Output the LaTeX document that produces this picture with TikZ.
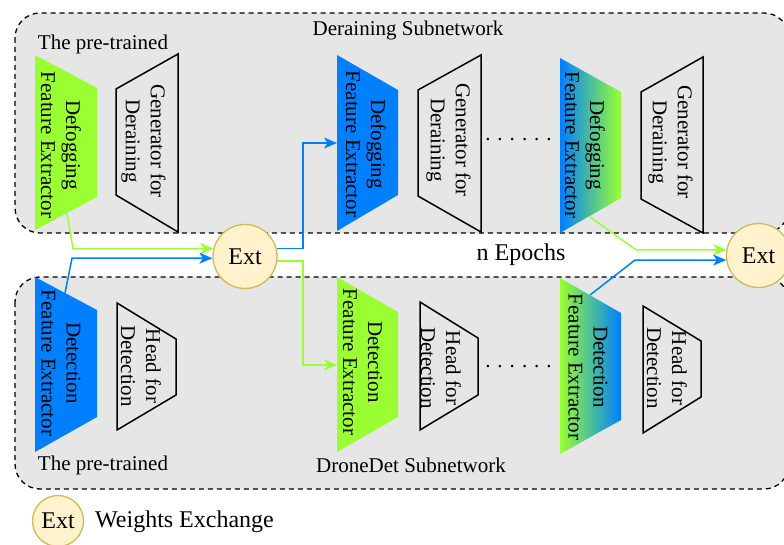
\documentclass[tikz,border=0pt]{standalone}
\usepackage{fontspec}
\setmainfont{Liberation Serif}
\usetikzlibrary{arrows.meta,calc}
\definecolor{panel}{HTML}{E6E6E6}
\definecolor{fogG}{HTML}{99FF33}
\definecolor{detB}{HTML}{007FFF}
\definecolor{extfill}{HTML}{FFF2CC}
\definecolor{extline}{HTML}{D6B656}

\begin{document}
\begin{tikzpicture}[x=1pt,y=-1pt,
  panelbox/.style={fill=panel, draw=black, dash pattern=on 5pt off 4pt, line width=1.3pt, rounded corners=25pt},
  block/.style={draw=black, line width=1.5pt, line join=miter},
  lbl/.style={font=\fontsize{21}{25}\selectfont, align=center, inner sep=0pt},
  biglbl/.style={lbl, font=\fontsize{24}{28}\selectfont},
  vlbl/.style={lbl, rotate=-90},
  extnode/.style={circle, draw=extline, fill=extfill, line width=1.3pt, minimum size=64pt, inner sep=0pt, font=\fontsize{24}{28}\selectfont},
  link/.style={line width=1.5pt, -{Stealth[length=13pt,width=11pt,inset=3.5pt]}},
]
\clip (0,0) rectangle (784,545);

% the two subnetwork panels
\draw[panelbox] (15,13) rectangle (789,233);
\draw[panelbox] (15,277) rectangle (789,489);

% deraining subnetwork blocks
\fill[fogG] (35,55) -- (97,88) -- (97,197) -- (35,230) -- cycle;
\draw[block] (116,89) -- (178,54) -- (178,232) -- (116,195) -- cycle;
\fill[detB] (337,55) -- (398,90) -- (398,195) -- (337,231) -- cycle;
\draw[block] (418,90) -- (481,55) -- (481,232) -- (418,196) -- cycle;
\shade[left color=detB, right color=fogG] (560,58) -- (621,92) -- (621,198) -- (560,233) -- cycle;
\draw[block] (641,92) -- (703,57) -- (703,233) -- (641,199) -- cycle;

% dronedet subnetwork blocks
\fill[detB] (35,277) -- (97,310) -- (97,417) -- (35,452) -- cycle;
\draw[block] (117,303) -- (176,339) -- (176,395) -- (117,430) -- cycle;
\fill[fogG] (337,277) -- (398,312) -- (398,417) -- (337,452) -- cycle;
\draw[block] (420,302) -- (478,338) -- (478,395) -- (420,430) -- cycle;
\shade[left color=fogG, right color=detB] (560,278) -- (621,313) -- (621,420) -- (560,454) -- cycle;
\draw[block] (643,306) -- (701,341) -- (701,397) -- (643,433) -- cycle;

% block captions
\node[vlbl] (tdf1) at (61,145) {Defogging\\Feature Extractor};
\node[vlbl] (tgn1) at (143.5,141) {Generator for\\Deraining};
\node[vlbl] (tdf2) at (366,144) {Defogging\\Feature Extractor};
\node[vlbl] (tgn2) at (448.5,140) {Generator for\\Deraining};
\node[vlbl] (tdf3) at (585,145) {Defogging\\Feature Extractor};
\node[vlbl] (tgn3) at (670.5,142) {Generator for\\Deraining};

\node[vlbl] (tdt1) at (61,363) {Detection\\Feature Extractor};
\node[vlbl] (thd1) at (141,366) {Head for\\Detection};
\node[vlbl] (tdt2) at (362.5,362) {Detection\\Feature Extractor};
\node[vlbl] (thd2) at (441,368) {Head for\\Detection};
\node[vlbl] (tdt3) at (588,367) {Detection\\Feature Extractor};
\node[vlbl] (thd3) at (667,368) {Head for\\Detection};

\node[lbl, anchor=base] (dots1) at (518.5,140.5) {. . . . . .};
\node[lbl, anchor=base] (dots2) at (518.5,367.5) {. . . . . .};

% panel titles
\node[lbl] (pre1) at (103,44) {The pre-trained};
\node[lbl] (pre2) at (103,465) {The pre-trained};
\node[lbl] (dsub) at (408,30) {Deraining Subnetwork};
\node[lbl] (ddsub) at (411,465) {DroneDet Subnetwork};
\node[biglbl] (epochs) at (521,255) {n Epochs};

% weight exchange nodes
\node[extnode] (ext1) at (245,256.5) {Ext};
\node[extnode] (ext2) at (758.5,255.5) {Ext};

% legend
\node[extnode, minimum size=51pt] (extkey) at (58,521) {Ext};
\node[biglbl, anchor=west] (keytxt) at (95,522) {Weights Exchange};

% connector ends on the blocks
\coordinate (d1out) at (67,213);
\coordinate (b1out) at (65,293);
\coordinate (d2in) at (337,143);
\coordinate (b2in) at (337,365);
\coordinate (hub) at (303,256);
\coordinate (d3out) at (590,217);
\coordinate (b3out) at (590,295);

% weight flows
\draw[link, fogG] (d1out) -- ([xshift=6pt]d1out |- ext1.166) -- (ext1.166);
\draw[link, detB] (b1out) -- ([xshift=7pt]b1out |- ext1.183) -- (ext1.183);
\draw[link, detB] (ext1.14) -| (hub |- d2in) -- (d2in);
\draw[link, fogG] (ext1.352) -| (hub |- b2in) -- (b2in);
\draw[link, fogG] (d3out) -- ([xshift=46pt]d3out |- ext2.170) -- (ext2.170);
\draw[link, detB] (b3out) -- ([xshift=45pt]b3out |- ext2.188) -- (ext2.188);
\end{tikzpicture}
\end{document}
